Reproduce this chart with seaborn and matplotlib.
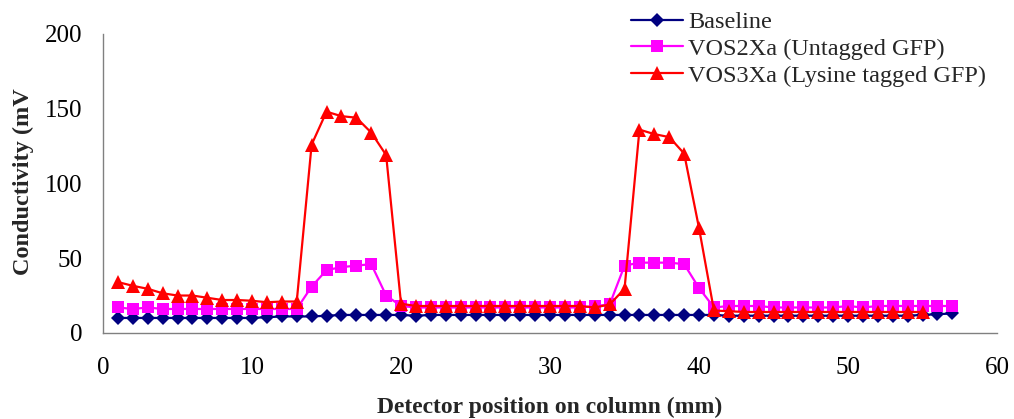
import numpy as np
import pandas as pd
import matplotlib
matplotlib.use("Agg")
import matplotlib.pyplot as plt
from matplotlib.lines import Line2D
import seaborn as sns

# Detector positions along the column (mm)
position_base = list(range(1, 58))
position_vos2 = list(range(1, 58))
position_vos3 = list(range(1, 56))

# Conductivity readings (mV)
baseline = [10, 10, 10, 10, 10, 10, 10, 10, 10, 10,
            10.5, 11, 11, 11, 11.5, 12, 12, 12, 12, 12,
            11.5, 12, 12, 12, 12, 12, 12, 12, 12, 12,
            12, 12, 12, 12, 12, 12, 12, 12, 12, 12,
            12, 11.5, 11.5, 11.5, 11.5, 11.5, 11.5, 11.5, 11.5, 11.5,
            11.5, 11.5, 11.5, 11.5, 12, 12.5, 13]
vos2xa = [17, 16, 17, 16, 16, 16, 16, 16, 16, 16,
          16, 16, 16, 31, 42, 44, 45, 46, 25, 18,
          17, 17, 17, 17, 17, 17, 17, 17, 17, 17,
          17, 17, 18, 19, 45, 47, 47, 47, 46, 30,
          17, 18, 18, 18, 17, 17, 17, 17, 17, 18,
          17, 18, 18, 18, 18, 18, 18]
vos3xa = [34, 31.5, 29.5, 26.5, 25, 25, 23.5, 22, 22, 21.5,
          20.5, 21, 21, 126, 148, 145, 144, 134, 119, 19.5,
          18, 18, 18, 18, 18, 18, 18, 18, 18, 18,
          18, 18, 17, 19, 29.5, 136, 133, 131, 120, 70,
          15, 14.5, 14, 14, 14, 14, 14, 14, 14, 14,
          14, 14, 14, 14, 14]

series_names = ["Baseline", "VOS2Xa (Untagged GFP)", "VOS3Xa (Lysine tagged GFP)"]

df = pd.concat([
    pd.DataFrame({"pos": position_base, "val": baseline, "series": series_names[0]}),
    pd.DataFrame({"pos": position_vos2, "val": vos2xa, "series": series_names[1]}),
    pd.DataFrame({"pos": position_vos3, "val": vos3xa, "series": series_names[2]}),
], ignore_index=True)

sns.set_theme(style="white")
plt.rcParams["font.family"] = ["Liberation Serif", "DejaVu Serif"]

fig = plt.figure(figsize=(10.14, 4.19), dpi=100)
ax = fig.add_axes([0.1016, 0.2055, 0.8817, 0.7134])

palette = {series_names[0]: "#000080", series_names[1]: "#FF00FF", series_names[2]: "#FF0000"}
markers = {series_names[0]: "D", series_names[1]: "s", series_names[2]: "^"}
sizes = {"D": 7.5, "s": 8, "^": 9.5}

sns.lineplot(data=df, x="pos", y="val", hue="series", style="series",
             palette=palette, markers=markers, dashes=False, ax=ax,
             linewidth=1.6, markeredgewidth=0, legend=False)

for line in ax.lines:
    m = line.get_marker()
    if m in sizes:
        line.set_markersize(sizes[m])

ax.set_xlim(0, 60)
ax.set_ylim(0, 200)
ax.set_xticks(range(0, 61, 10))
ax.set_yticks(range(0, 201, 50))
ax.set_xlabel("")
ax.set_ylabel("")
for s in ["top", "right"]:
    ax.spines[s].set_visible(False)
for s in ["left", "bottom"]:
    ax.spines[s].set_color("#808080")
    ax.spines[s].set_linewidth(1.0)
ax.tick_params(axis="both", direction="out", length=6, width=1.0, color="#808080",
               labelsize=18, labelcolor="black")
ax.tick_params(axis="x", pad=11)
ax.tick_params(axis="y", pad=9)

fig.text(0.5 * (103 + 997) / 1014, 1.5 / 419, "Detector position on column (mm)",
         fontsize=17, fontweight="bold", ha="center", va="bottom")
fig.text(23 / 1014, 1 - 182 / 419, "Conductivity (mV", rotation=90,
         fontsize=17.5, fontweight="bold", ha="center", va="center")

handles = [Line2D([0], [0], color=palette[n], marker=markers[n], lw=1.6,
                  markersize=sizes[markers[n]], markeredgewidth=0) for n in series_names]
fig.legend(handles, series_names, loc="upper left", bbox_to_anchor=(631 / 1014, 1 - 11 / 419),
           frameon=False, fontsize=17.5, handlelength=2.15, handletextpad=0.2,
           labelspacing=0.2, borderaxespad=0, borderpad=0)

fig.savefig("out.png", dpi=100)
